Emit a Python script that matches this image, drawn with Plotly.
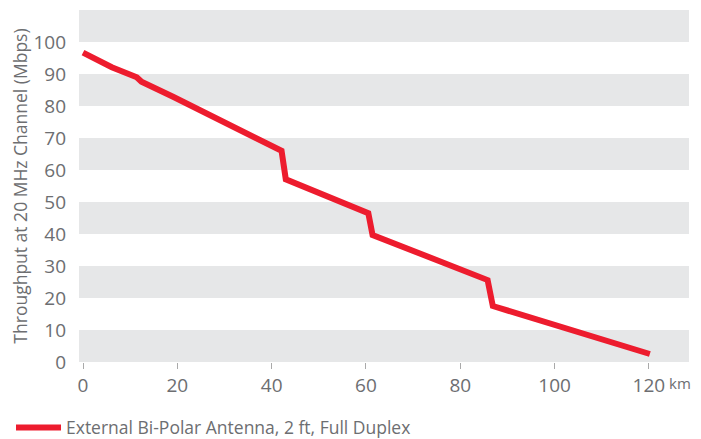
import plotly.graph_objects as go

# Data
distance_km = [0, 5.3, 6.1, 11.4, 12.4, 19.1, 20.2, 21.6, 42.1, 43.0, 60.5, 61.4, 85.8, 86.9, 120.2]
throughput_mbps = [96.7, 92.8, 92.1, 89.0, 87.6, 82.9, 82.1, 80.6, 66.0, 57.1, 46.5, 39.7, 25.6, 17.5, 2.5]
series_name = "External Bi-Polar Antenna, 2 ft, Full Duplex"
x_ticks = [0, 20, 40, 60, 80, 100, 120]
y_ticks = [0, 10, 20, 30, 40, 50, 60, 70, 80, 90, 100]
band_starts = [0, 20, 40, 60, 80, 100]  # gray bands, each 10 units tall

RED = "#ED1C2E"
GRAY_TXT = "#6D6E71"
BAND = "#E6E7E8"
FONT = "Open Sans"

# The page body has an 8px default margin, so the figure is sized/offset to compensate.
W, H = 693, 431

fig = go.Figure()
fig.add_trace(go.Scatter(
    x=distance_km, y=throughput_mbps, mode="lines", name=series_name,
    line=dict(color=RED, width=6), showlegend=True,
))

shapes = []
for b in band_starts:
    shapes.append(dict(type="rect", xref="paper", yref="y", x0=0, x1=1, y0=b, y1=b + 10,
                       fillcolor=BAND, line=dict(width=0), layer="below"))

fig.update_layout(
    width=W, height=H,
    margin=dict(l=71, r=12, t=2, b=77, autoexpand=False),
    paper_bgcolor="white", plot_bgcolor="white",
    font=dict(family=FONT, color=GRAY_TXT, size=19),
    shapes=shapes,
    showlegend=True,
    legend=dict(orientation="h", xref="container", yref="container",
                x=3 / W, xanchor="left", y=11.5 / H, yanchor="middle",
                font=dict(size=17.5, color=GRAY_TXT, family=FONT), itemwidth=45,
                bgcolor="rgba(0,0,0,0)"),
    annotations=[dict(text="km", xref="paper", yref="paper", x=(672 - 71) / 610, y=-0.06,
                      xanchor="center", yanchor="middle", showarrow=False,
                      font=dict(size=15, color=GRAY_TXT, family=FONT))],
)
fig.update_xaxes(range=[-0.85, 128.5], tickvals=x_ticks, showgrid=False, zeroline=False,
                 showline=False, ticks="outside", ticklen=6, tickcolor="#AAAAAA", tickwidth=1,
                 tickfont=dict(size=19, color=GRAY_TXT), automargin=False)
fig.update_yaxes(range=[0, 110], tickvals=y_ticks, showgrid=False, zeroline=False,
                 showline=False, ticks="", ticklabelstandoff=12, automargin=False,
                 tickfont=dict(size=19, color=GRAY_TXT),
                 title=dict(text="Throughput at 20 MHz Channel (Mbps)",
                            font=dict(size=17.5, color=GRAY_TXT), standoff=5))

fig.write_html("out.html")
